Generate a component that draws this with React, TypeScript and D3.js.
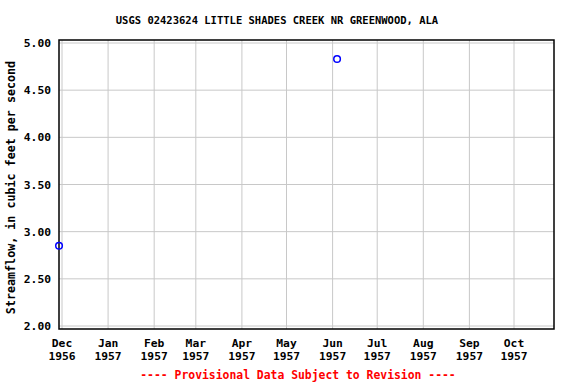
import React from "react";
import * as d3 from "d3";

const TITLE = "USGS 02423624 LITTLE SHADES CREEK NR GREENWOOD, ALA";
const Y_LABEL = "Streamflow, in cubic feet per second";
const FOOTER = "---- Provisional Data Subject to Revision ----";

const pointDates = ["1956-11-29", "1957-06-04"];
const pointValues = [2.85, 4.83];

const monthTicks = ["1956-12-01", "1957-01-01", "1957-02-01", "1957-03-01", "1957-04-01", "1957-05-01", "1957-06-01", "1957-07-01", "1957-08-01", "1957-09-01", "1957-10-01"];
const monthLabels = ["Dec", "Jan", "Feb", "Mar", "Apr", "May", "Jun", "Jul", "Aug", "Sep", "Oct"];
const yearLabels = ["1956", "1957", "1957", "1957", "1957", "1957", "1957", "1957", "1957", "1957", "1957"];
const yTicks = [2.0, 2.5, 3.0, 3.5, 4.0, 4.5, 5.0];

const W = 576, H = 384;
const frame = { left: 59, right: 554, top: 40, bottom: 329 };

const parse = d3.utcParse("%Y-%m-%d");

export default function App() {
  const x = d3.scaleUtc()
    .domain([parse("1956-12-01")!, parse("1957-10-01")!])
    .range([62, 514]);
  const y = d3.scaleLinear().domain([2, 5]).range([326, 43]);
  const font = "'DejaVu Sans Mono', monospace";

  return (
    <svg width={W} height={H} style={{ position: "absolute", left: 0, top: 0, background: "#fff" }}>
      <rect x={0} y={0} width={W} height={H} fill="#fff" />
      <text x={277} y={24} textAnchor="middle" fontFamily={font} fontWeight="bold" fontSize={10.5} fill="#000">{TITLE}</text>
      {monthTicks.map((d, i) => (
        <line key={"vg" + i} x1={x(parse(d)!)} x2={x(parse(d)!)} y1={frame.top} y2={frame.bottom} stroke="#c8c8c8" strokeWidth={1} />
      ))}
      {yTicks.map((v, i) => (
        <line key={"hg" + i} x1={frame.left} x2={frame.right} y1={y(v)} y2={y(v)} stroke="#c8c8c8" strokeWidth={1} />
      ))}
      <rect x={frame.left} y={frame.top} width={frame.right - frame.left} height={frame.bottom - frame.top} fill="none" stroke="#000" strokeWidth={1.5} />
      {yTicks.map((v, i) => (
        <text key={"yl" + i} x={51} y={y(v) + 4} textAnchor="end" fontFamily={font} fontWeight="bold" fontSize={11.3} fill="#000">{v.toFixed(2)}</text>
      ))}
      {monthTicks.map((d, i) => (
        <g key={"xl" + i}>
          <text x={x(parse(d)!)} y={347} textAnchor="middle" fontFamily={font} fontWeight="bold" fontSize={11.3} fill="#000">{monthLabels[i]}</text>
          <text x={x(parse(d)!)} y={360} textAnchor="middle" fontFamily={font} fontWeight="bold" fontSize={11.3} fill="#000">{yearLabels[i]}</text>
        </g>
      ))}
      <text transform={`translate(15,${(frame.top + frame.bottom) / 2 + 3}) rotate(-90)`} textAnchor="middle" fontFamily={font} fontWeight="bold" fontSize={11.7} fill="#000">{Y_LABEL}</text>
      {pointDates.map((d, i) => (
        <circle key={"p" + i} cx={x(parse(d)!)} cy={y(pointValues[i])} r={3.3} fill="none" stroke="#0000ff" strokeWidth={1.5} />
      ))}
      <text x={298} y={379} textAnchor="middle" fontFamily={font} fontWeight="bold" fontSize={11.4} fill="#ff0000">{FOOTER}</text>
    </svg>
  );
}
